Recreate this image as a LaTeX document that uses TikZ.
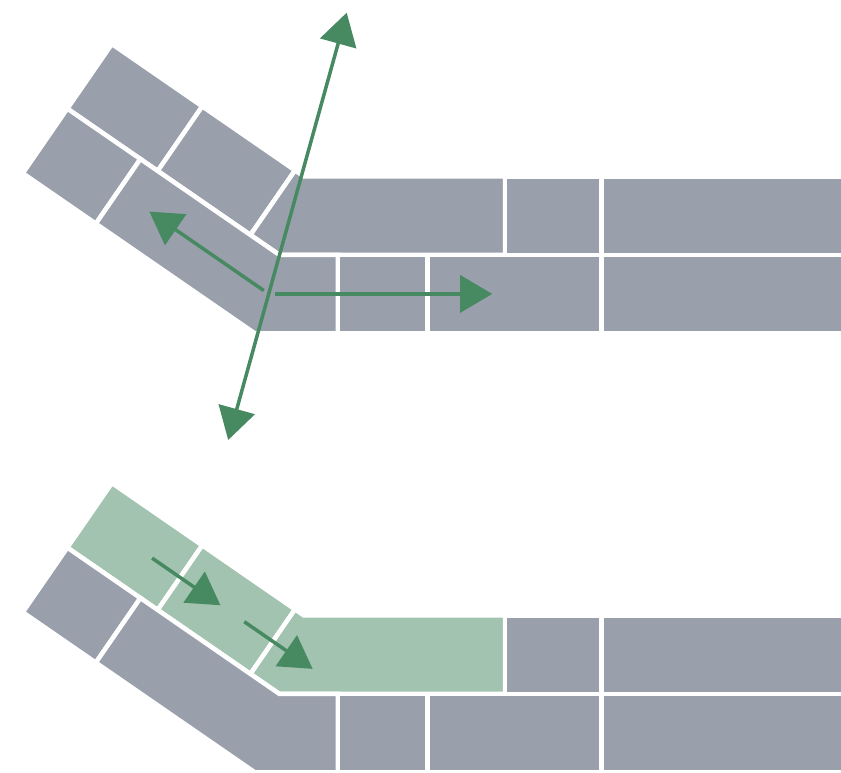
\documentclass[tikz,border=0pt]{standalone}
\usepackage{tikz}
\usetikzlibrary{arrows.meta,calc}
\definecolor{stone}{HTML}{9AA0AB}
\definecolor{sage} {HTML}{A2C3AF}
\definecolor{leaf} {HTML}{478A62}
\tikzset{
  >={Triangle[length=32pt,width=37pt]},
  % --- bricks
  brick/.style = {fill=stone, draw=white, line width=4.5pt, line join=miter},
  moved/.style = {brick, fill=sage},
  % --- arrows
  push/.style  = {->, line width=3.5pt, draw=leaf},
}

\begin{document}
\begin{tikzpicture}[x=1pt,y=1pt]
  \useasboundingbox (0,0) rectangle (841,773);
  \clip (0,0) rectangle (841,773);

  % --- the two walls (upper one plain, lower one with the moved course)
  \foreach \f/\y/\lead in {u/518/brick, l/79/moved}{
    \coordinate (\f M) at (279.5,\y);
    \coordinate (\f mt) at ($(\f M)+(24.45,78.5)$);
    \coordinate (\f mb) at ($(\f M)+(-24.45,-78.5)$);
    % slanted part
    \begin{scope}[shift={(\f M)},rotate=-34.6]
      \path[\lead] (-257.75,0) rectangle (-148,78.5);
      \path[\lead] (-148,0) rectangle (-35.3,78.5);
      \path[brick] (-257.75,-78.5) rectangle (-169,0);
      \coordinate (\f k1) at (-35.3,0);
      \coordinate (\f k2) at (-35.3,78.5);
      \coordinate (\f k3) at (-169,0);
      \coordinate (\f k4) at (-169,-78.5);
    \end{scope}
    % straight part
    \begin{scope}[shift={(\f M)}]
      \path[\lead] (\f k1) -- (\f k2) -- (\f mt) -- (225.5,78.5) -- (225.5,0) -- (\f M) -- cycle;
      \path[brick] (225.5,0) rectangle (322,78.5);
      \path[brick] (322,0) rectangle (600,78.5);
      \path[brick] (\f k3) -- (\f k4) -- (\f mb) -- (58.3,-78.5) -- (58.3,0) -- (\f M) -- cycle;
      \path[brick] (58.3,-78.5) rectangle (147.8,0);
      \path[brick] (147.8,-78.5) rectangle (322,0);
      \path[brick] (322,-78.5) rectangle (600,0);
    \end{scope}
  }

  % --- forces on the upper wall
  \coordinate (hinge) at ($(uM)+(254.5:40.4)$);
  \coordinate (up)    at ($(uM)+(74.5:251.5)$);
  \coordinate (down)  at ($(uM)+(254.5:192)$);
  \coordinate (run0)  at ($(hinge)+(6,0)$);
  \coordinate (run1)  at ($(hinge)+(223.5,0)$);
  \coordinate (slide0) at ($(hinge)+(145.4:6)$);
  \coordinate (slide1) at ($(hinge)+(145.4:145)$);
  \draw[push,<->] (down) -- (up);
  \draw[push] (run0) -- (run1);
  \draw[push] (slide0) -- (slide1);

  % --- sliding of the lower course
  \begin{scope}[shift={(lM)},rotate=-34.6]
    \coordinate (f1a) at (-182,39.5);
    \coordinate (f1b) at (-99,39.5);
    \coordinate (f2a) at (-70,39.5);
    \coordinate (f2b) at (13,39.5);
  \end{scope}
  \draw[push] (f1a) -- (f1b);
  \draw[push] (f2a) -- (f2b);
\end{tikzpicture}
\end{document}
